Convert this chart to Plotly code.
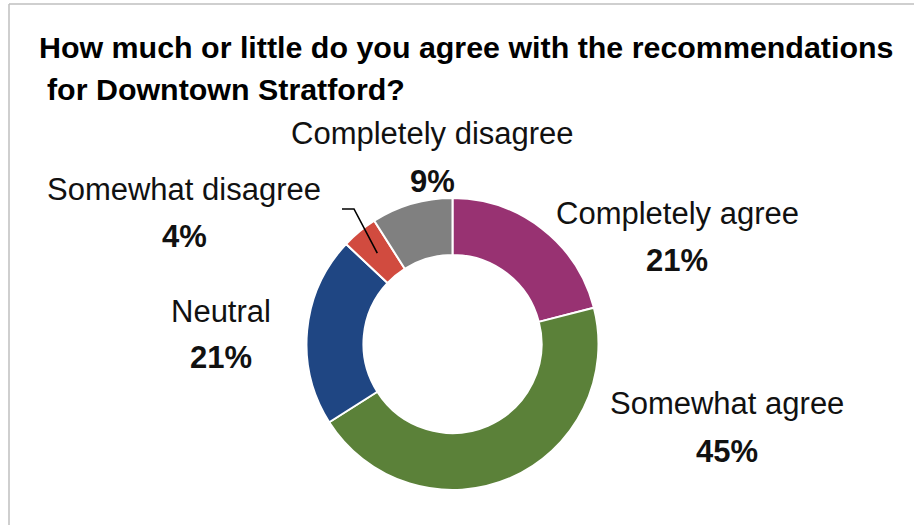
import math
import plotly.graph_objects as go

categories = ["Completely agree", "Somewhat agree", "Neutral", "Somewhat disagree", "Completely disagree"]
values = [21, 45, 21, 4, 9]
colors = ["#983272", "#5B8139", "#1F4683", "#D14B3F", "#808080"]
title_lines = ["How much or little do you agree with the recommendations", "for Downtown Stratford?"]

W, H = 914, 525
cx, cy, R = 452.5, 344.0, 146.0
FONT = "Liberation Sans, Arial, sans-serif"

fig = go.Figure(go.Pie(
    labels=categories,
    values=values,
    hole=0.61,
    sort=False,
    direction="clockwise",
    rotation=0,
    marker=dict(colors=colors, line=dict(color="white", width=2)),
    textinfo="none",
    hoverinfo="label+percent",
    showlegend=False,
    domain=dict(x=[(cx - R) / W, (cx + R) / W], y=[(H - cy - R) / H, (H - cy + R) / H]),
))

# label positions (pixel centres of the label blocks)
label_pos = {
    "Completely agree": (677, 213, 260),
    "Somewhat agree": (727, 403, 451),
    "Neutral": (221, 311, 357),
    "Somewhat disagree": (184, 189, 237),
    "Completely disagree": (432, 133, 181),
}

def px(x):
    return x / W

def py(y):
    return 1 - y / H

annotations = []
for cat, val in zip(categories, values):
    x, y1, y2 = label_pos[cat]
    annotations.append(dict(x=px(x), y=py(y1), xref="paper", yref="paper", text=cat,
                            showarrow=False, xanchor="center", yanchor="middle",
                            font=dict(family=FONT, size=31, color="#111111")))
    annotations.append(dict(x=px(x), y=py(y2), xref="paper", yref="paper", text=f"<b>{val}%</b>",
                            showarrow=False, xanchor="center", yanchor="middle",
                            font=dict(family=FONT, size=31, color="#111111")))

annotations.append(dict(x=px(37), y=py(47), xref="paper", yref="paper", text=f"<b>{title_lines[0]}</b>",
                        showarrow=False, xanchor="left", yanchor="middle",
                        font=dict(family=FONT, size=30.4, color="#000000")))
annotations.append(dict(x=px(45), y=py(89), xref="paper", yref="paper", text=f"<b>{title_lines[1]}</b>",
                        showarrow=False, xanchor="left", yanchor="middle",
                        font=dict(family=FONT, size=30.4, color="#000000")))

# leader line for the small "Somewhat disagree" slice, end point from data mid-angle
total = sum(values)
idx = categories.index("Somewhat disagree")
mid = (sum(values[:idx]) + values[idx] / 2) / total * 2 * math.pi
r_end = 118
ex = cx + r_end * math.sin(mid)
ey = cy - r_end * math.cos(mid)
path = f"M {px(342)} {py(209)} L {px(354)} {py(209)} L {px(ex)} {py(ey)}"

shapes = [
    dict(type="path", xref="paper", yref="paper", path=path, line=dict(color="black", width=1.6)),
    dict(type="line", xref="paper", yref="paper", x0=px(9), x1=1, y0=py(4), y1=py(4),
         line=dict(color="#BFBFBF", width=1.5)),
    dict(type="line", xref="paper", yref="paper", x0=px(9), x1=px(9), y0=py(4), y1=0,
         line=dict(color="#BFBFBF", width=1.5)),
]

fig.update_layout(
    width=W, height=H, autosize=False,
    margin=dict(l=0, r=0, t=0, b=0),
    paper_bgcolor="white", plot_bgcolor="white",
    annotations=annotations, shapes=shapes,
)

fig.write_html("out.html", config={"displayModeBar": False},
               post_script="document.body.style.margin='0';document.body.style.overflow='hidden';")
